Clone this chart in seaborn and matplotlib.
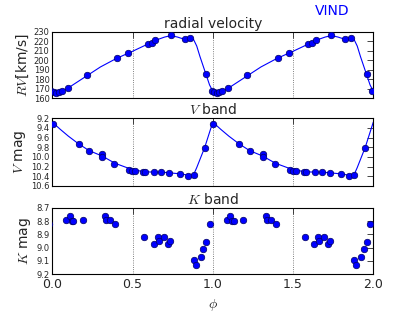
import numpy as np
import pandas as pd
import matplotlib
matplotlib.use("Agg")
import matplotlib.pyplot as plt
import seaborn as sns

# radial velocity measurements (phase, km/s)
rv_phase = [0.993, 0.010, 0.025, 0.041, 0.059, 0.095, 0.216, 0.405, 0.472,
            0.594, 0.619, 0.643, 0.738, 0.826, 0.858, 0.958]
rv_kms = [168.0, 167.0, 166.0, 167.0, 168.0, 170.8, 184.5, 202.7, 208.0,
          217.4, 218.1, 221.2, 226.2, 222.6, 223.7, 185.2]

# fitted RV curve
rv_fit_phase = [0.0, 0.02, 0.05, 0.1, 0.2, 0.3, 0.4, 0.5, 0.6, 0.65, 0.7, 0.74,
                0.78, 0.82, 0.86, 0.88, 0.9, 0.92, 0.94, 0.96, 0.98, 1.0]
rv_fit = [167.5, 166.0, 166.5, 171.0, 182.0, 193.0, 202.0, 209.5, 217.5, 221.5,
          224.5, 226.0, 224.5, 222.3, 223.6, 222.0, 215.0, 204.0, 194.0, 184.0,
          174.0, 167.5]

# V band photometry
v_phase = [0.002, 0.164, 0.231, 0.312, 0.312, 0.387, 0.479, 0.497, 0.518, 0.568,
           0.579, 0.635, 0.680, 0.728, 0.797, 0.848, 0.880, 0.951]
v_mag = [9.32, 9.74, 9.88, 9.93, 10.01, 10.14, 10.26, 10.29, 10.29, 10.32,
         10.32, 10.32, 10.32, 10.34, 10.35, 10.39, 10.38, 9.81]

v_fit_phase = [0.0, 0.05, 0.1, 0.164, 0.23, 0.31, 0.39, 0.48, 0.52, 0.6, 0.7,
               0.8, 0.85, 0.88, 0.9, 0.95, 1.0]
v_fit = [9.28, 9.43, 9.57, 9.73, 9.87, 9.98, 10.13, 10.24, 10.28, 10.31, 10.32,
         10.35, 10.38, 10.37, 10.22, 9.80, 9.28]

# K band photometry
k_phase = [0.086, 0.108, 0.122, 0.131, 0.189, 0.329, 0.335, 0.362, 0.392, 0.573,
           0.632, 0.657, 0.663, 0.693, 0.720, 0.733, 0.880, 0.894, 0.925, 0.942,
           0.960, 0.982]
k_mag = [8.79, 8.76, 8.80, 8.80, 8.79, 8.76, 8.79, 8.79, 8.82, 8.92,
         8.97, 8.92, 8.95, 8.92, 8.97, 8.95, 9.09, 9.13, 9.07, 9.01,
         8.96, 8.82]


def two_cycles(phase, values):
    # repeat the data so it covers phase 0 to 2
    phase = np.asarray(phase)
    return pd.DataFrame({"phase": np.concatenate([phase - 1, phase, phase + 1]),
                         "val": np.tile(values, 3)})


sns.set_style("white")
plt.rcParams.update({
    "mathtext.fontset": "cm",
    "axes.edgecolor": "black",
    "axes.linewidth": 0.8,
    "xtick.direction": "in",
    "ytick.direction": "in",
    "xtick.top": True,
    "ytick.right": True,
    "xtick.major.size": 4,
    "ytick.major.size": 4,
    "xtick.major.width": 0.6,
    "ytick.major.width": 0.6,
})

fig = plt.figure(figsize=(4.15, 3.12), dpi=100)
ax1 = fig.add_axes([0.126, 0.685, 0.7735, 0.213])
ax2 = fig.add_axes([0.126, 0.404, 0.7735, 0.217])
ax3 = fig.add_axes([0.126, 0.121, 0.7735, 0.213])

point_kw = dict(color="blue", edgecolor="#000060", s=22, linewidth=0.5, zorder=3)
line_kw = dict(color="blue", linewidth=0.8, sort=False, estimator=None)

# radial velocity
sns.lineplot(data=two_cycles(rv_fit_phase, rv_fit), x="phase", y="val", ax=ax1, **line_kw)
sns.scatterplot(data=two_cycles(rv_phase, rv_kms), x="phase", y="val", ax=ax1, **point_kw)
ax1.set_ylim(160, 230)
ax1.set_yticks(np.arange(160, 231, 10))
ax1.set_ylabel("$RV$[km/s]", fontsize=10, labelpad=2)
ax1.set_title("radial velocity", fontsize=10, pad=3)

# V band
sns.lineplot(data=two_cycles(v_fit_phase, v_fit), x="phase", y="val", ax=ax2, **line_kw)
sns.scatterplot(data=two_cycles(v_phase, v_mag), x="phase", y="val", ax=ax2, **point_kw)
ax2.set_ylim(10.6, 9.2)
ax2.set_yticks(np.arange(9.2, 10.61, 0.2))
ax2.set_ylabel("$V$ mag", fontsize=10, labelpad=2)
ax2.set_title("$V$ band", fontsize=10, pad=3)

# K band
sns.scatterplot(data=two_cycles(k_phase, k_mag), x="phase", y="val", ax=ax3, **point_kw)
ax3.set_ylim(9.2, 8.7)
ax3.set_yticks(np.arange(8.7, 9.21, 0.1))
ax3.set_ylabel("$K$ mag", fontsize=10, labelpad=2)
ax3.set_title("$K$ band", fontsize=10, pad=3)
ax3.set_xlabel("$\\phi$", fontsize=10)

for ax in (ax1, ax2, ax3):
    ax.set_xlim(0, 2)
    ax.set_xticks([0.0, 0.5, 1.0, 1.5, 2.0])
    ax.xaxis.grid(True, linestyle=":", color="0.35", linewidth=0.6)
    ax.yaxis.grid(False)
    ax.tick_params(axis="y", labelsize=6, pad=2)
    if ax is not ax3:
        ax.tick_params(axis="x", labelbottom=False)
        ax.set_xlabel("")
ax3.tick_params(axis="x", labelsize=9, pad=3)

fig.text(0.8, 0.965, "VIND", color="blue", fontsize=10, ha="center", va="center")

fig.savefig("out.png", dpi=100)
